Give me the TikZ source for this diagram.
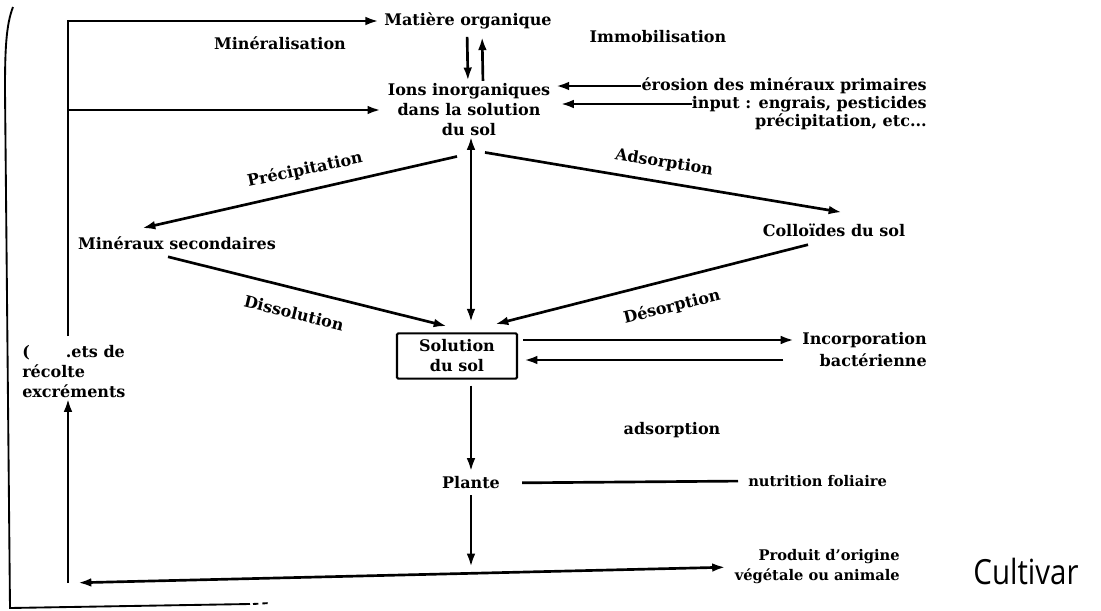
\documentclass[tikz,border=0pt]{standalone}
\usepackage{fontspec}
\setmainfont{DejaVu Serif}
\newfontfamily\handfont{Open Sans}
\usetikzlibrary{arrows.meta}

\tikzset{
  lbl/.style={font=\bfseries\fontsize{12}{15}\selectfont, inner sep=0pt, align=center},
  sml/.style={lbl, font=\bfseries\fontsize{11}{15}\selectfont},
  ln/.style={line width=2pt},
  arr/.style={ln, -{Latex[length=10pt,width=6.5pt]}},
  arrs/.style={ln, {Latex[length=10pt,width=6.5pt]}-{Latex[length=10pt,width=6.5pt]}},
}

\begin{document}
\begin{tikzpicture}[x=0.75pt,y=-0.75pt]
	\useasboundingbox (0,0) rectangle (1101,611);

	% frame
	\draw [line width=1.4pt] (13,7) .. controls (6,25) and (5,50) .. (5,90) -- (10,608) -- (250,604);
	\draw [line width=1.4pt, dash pattern=on 4pt off 3pt] (253,604) -- (270,603);

	% compartments
	\node [lbl] (mo) at (468,21) {Matière organique};
	\node [lbl] (ions) at (469,110) {Ions inorganiques\\dans la solution\\du sol};
	\node [lbl] (minz) at (280,43) {Minéralisation};
	\node [lbl] (immo) at (658,37) {Immobilisation};
	\node [lbl, anchor=east] (ero1) at (927,86) {érosion des minéraux primaires};
	\node [lbl, anchor=east] (ero2) at (927,104) {input : engrais, pesticides};
	\node [lbl, anchor=east] (ero3) at (927,122) {précipitation, etc...};
	\node [lbl] (minsec) at (177,243) {Minéraux secondaires};
	\node [lbl] (coll) at (834,230) {Colloïdes du sol};
	\node [lbl, draw, line width=1.6pt, minimum width=90pt, minimum height=34pt, rounded corners=1pt] (sol) at (457,356) {Solution\\du sol};
	\node [lbl, anchor=east] (inc1) at (927,340) {Incorporation};
	\node [lbl, anchor=east] (inc2) at (927,360) {bactérienne};
	\node [lbl] (ads) at (672,430) {adsorption};
	\node [lbl] (plante) at (471,483) {Plante};
	\node [sml, anchor=west] (fol) at (748,481) {nutrition foliaire};
	\node [sml, anchor=east, align=right] (prod) at (900,567) {Produit d'origine\\végétale ou animale};
	\node [lbl, anchor=west, align=left] (res) at (22,372) {(\hspace{27pt}.ets de\\récolte\\excréments};
	\node [inner sep=0pt] (cult) at (1026,571) {\scalebox{0.85}[1]{\handfont\fontsize{26}{26}\selectfont Cultivar}};

	% process labels
	\node [lbl, rotate=12] (lprec) at (305,170) {Précipitation};
	\node [lbl, rotate=-14] (ldiss) at (294,313) {Dissolution};
	\node [lbl, rotate=-9] (lads) at (664,163) {Adsorption};
	\node [lbl, rotate=14] (ldes) at (672,307) {Désorption};

	\coordinate (bl) at (68,583);

	% return loop on the left
	\draw [arr, shorten <=7pt, shorten >=4pt] (bl |- res.north) |- (mo.west);
	\draw [arr, shorten >=5pt] (bl |- ions.west) -- (ions.west);
	\draw [arr, shorten <=7.5pt] ([xshift=7.5pt]bl) -- (bl) -- (bl |- res.south);

	% organic matter <-> ions
	\draw [arr, shorten <=5.5pt, shorten >=2pt] ([xshift=-0.75pt]mo.south) -- ([xshift=-0.75pt]ions.north);
	\draw [arr, shorten <=2pt, shorten >=5.5pt] ([xshift=10.5pt]ions.north) -- ([xshift=10.5pt]mo.south);

	% inputs
	\draw [arr, shorten >=4pt] (ero1.west) -- (ions.east |- ero1.west);
	\draw [arr, shorten >=7.5pt] (ero2.west) -- (ions.east |- ero2.west);

	% exchanges around the soil solution
	\draw [arr] ([shift={(-12,20)}]ions.south) -- ([shift={(-35,-8)}]minsec.north);
	\draw [arr] ([shift={(16,16)}]ions.south) -- ([shift={(8,-11)}]coll.north);
	\draw [arr] ([shift={(-9,7)}]minsec.south) -- ([shift={(-10,-6)}]sol.north);
	\draw [arr] ([shift={(-26,8)}]coll.south) -- ([shift={(38,-8)}]sol.north);
	\draw [arrs] ([xshift=1.5pt]ions.south) -- ([shift={(14,-10)}]sol.north);

	\draw [arr, shorten <=3.75pt, shorten >=6pt] (sol.east |- inc1.west) -- (inc1.west);
	\draw [arr, shorten <=27pt, shorten >=4.5pt] (inc2.west) -- (sol.east |- inc2.west);

	% plant
	\draw [arr, shorten <=4.5pt, shorten >=3.75pt] (sol.south -| plante.north) -- (plante.north);
	\draw [ln, shorten <=16.5pt, shorten >=7.5pt] (plante.east) -- (fol.west);
	\draw [arr, shorten <=4.5pt] (plante.south) -- (plante.south |- prod.west);
	\draw [arrs, shorten <=7.5pt, shorten >=6.75pt] (bl) -- (prod.west);
\end{tikzpicture}
\end{document}
